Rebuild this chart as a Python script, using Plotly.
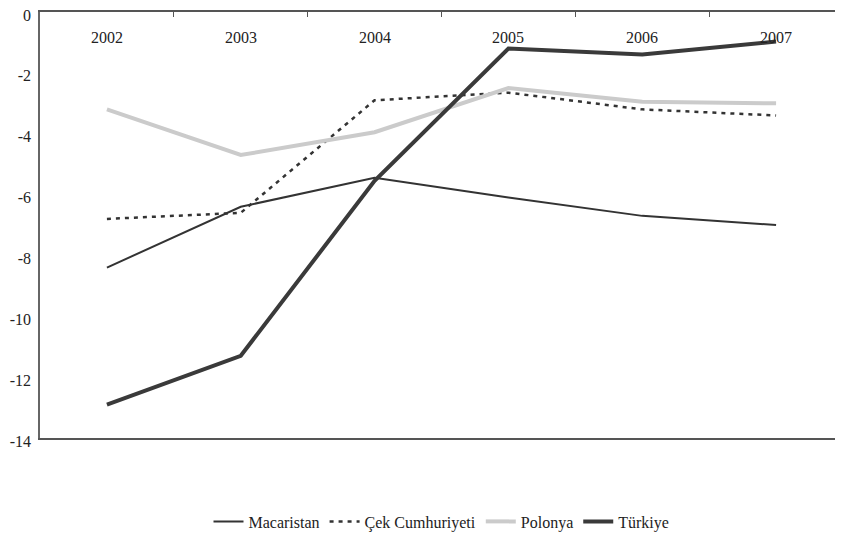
import plotly.graph_objects as go

years = ["2002", "2003", "2004", "2005", "2006", "2007"]
macaristan = [-8.4, -6.4, -5.45, -6.1, -6.7, -7.0]
cek = [-6.8, -6.6, -2.9, -2.65, -3.2, -3.4]
polonya = [-3.2, -4.7, -3.95, -2.5, -2.95, -3.0]
turkiye = [-12.9, -11.3, -5.55, -1.2, -1.4, -0.97]
y_ticks = [0, -2, -4, -6, -8, -10, -12, -14]

font_family = "Liberation Serif"

fig = go.Figure()
fig.add_trace(go.Scatter(x=years, y=macaristan, name="Macaristan", mode="lines",
                         line=dict(color="#333333", width=2)))
fig.add_trace(go.Scatter(x=years, y=cek, name="Çek Cumhuriyeti", mode="lines",
                         line=dict(color="#333333", width=2.5, dash="4px,5px")))
fig.add_trace(go.Scatter(x=years, y=polonya, name="Polonya", mode="lines",
                         line=dict(color="#cbcbcb", width=4)))
fig.add_trace(go.Scatter(x=years, y=turkiye, name="Türkiye", mode="lines",
                         line=dict(color="#3a3a3a", width=4)))

# Year labels sit just below the top axis line, inside the plot area
# (category axis: annotation x is the category index)
for i, yr in enumerate(years):
    fig.add_annotation(x=i, xref="x", y=0.941, yref="paper", text=yr,
                       showarrow=False, yanchor="middle",
                       font=dict(family=font_family, size=16, color="#222222"))

# The page body adds an 8px margin, so the figure is sized to the remaining window.
fig.update_layout(
    width=835, height=526,
    margin=dict(l=32, r=0, t=4, b=96, autoexpand=False),
    paper_bgcolor="white", plot_bgcolor="white",
    font=dict(family=font_family, size=16, color="#222222"),
    showlegend=True,
    legend=dict(orientation="h", x=0.5, xanchor="center", y=-0.196, yanchor="middle",
                font=dict(family=font_family, size=16, color="#222222"),
                tracegroupgap=0),
    xaxis=dict(side="top", type="category", tickson="boundaries", ticks="inside",
               ticklen=5, tickcolor="#555555", showline=True, linecolor="#555555",
               linewidth=1.5, mirror=True, showgrid=False, zeroline=False,
               showticklabels=False, automargin=False, range=[-0.5, 5.5]),
    yaxis=dict(range=[-14, 0], tickvals=y_ticks, ticktext=[str(v) for v in y_ticks],
               showgrid=False, zeroline=False, showline=True, linecolor="#666666",
               linewidth=1.5, mirror=True, ticks="", automargin=False,
               ticklabeloverflow="allow", ticklabelshift=3, ticklabelstandoff=4,
               tickfont=dict(family=font_family, size=16, color="#222222")),
)

fig.write_html("out.html")
